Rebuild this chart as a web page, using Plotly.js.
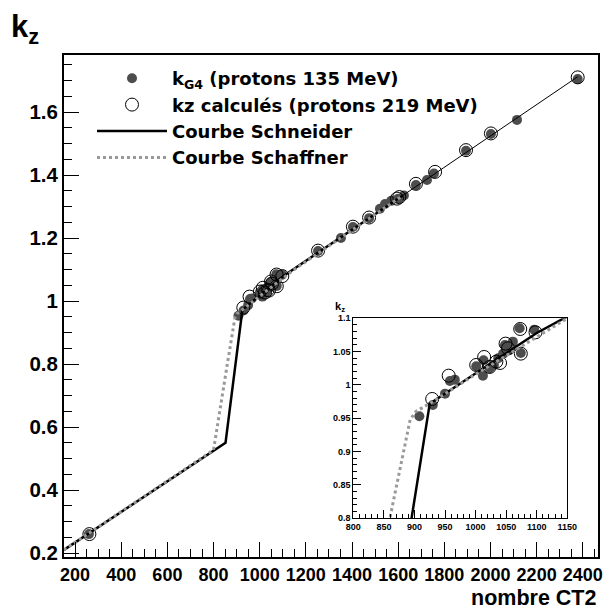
<!DOCTYPE html>
<html>
<head>
<meta charset="utf-8">
<script src="https://cdn.plot.ly/plotly-3.0.1.min.js"></script>
<style>html,body{margin:0;padding:0;background:#fff;}#chart{width:603px;height:614px;}</style>
</head>
<body>
<div id="chart"></div>
<script>
// k_G4 (protons 135 MeV) – filled markers
const ctG4 = [260, 908, 930, 950, 958, 966, 1001, 1012, 1013, 1023, 1030, 1037, 1045, 1048, 1055, 1061, 1072, 1074, 1096, 1253, 1352, 1404, 1474, 1521, 1543, 1570, 1600, 1625, 1677, 1725, 1755, 1894, 2002, 2115, 2378];
const kzG4 = [0.26, 0.953, 0.970, 0.987, 1.006, 1.008, 1.028, 1.014, 1.037, 1.025, 1.030, 1.040, 1.047, 1.060, 1.052, 1.065, 1.085, 1.048, 1.083, 1.159, 1.200, 1.235, 1.263, 1.293, 1.308, 1.318, 1.325, 1.335, 1.368, 1.384, 1.405, 1.477, 1.530, 1.575, 1.705];

// kz calculés (protons 219 MeV) – open circles
const ctCalc = [262, 929, 956, 1001, 1014, 1023, 1034, 1040, 1049, 1053, 1074, 1073, 1098, 1253, 1404, 1474, 1595, 1605, 1677, 1760, 1894, 2002, 2378];
const kzCalc = [0.26, 0.979, 1.014, 1.030, 1.042, 1.027, 1.035, 1.033, 1.062, 1.055, 1.047, 1.084, 1.079, 1.160, 1.236, 1.265, 1.325, 1.330, 1.372, 1.410, 1.479, 1.532, 1.710];

// Courbe Schneider
const ctSchneider = [152, 852, 925, 1000, 1100, 1620];
const kzSchneider = [0.21, 0.55, 0.972, 1.018, 1.078, 1.335];

// Courbe Schaffner
const ctSchaffner = [152, 800, 862, 893, 902, 930, 1000, 1150, 1620];
const kzSchaffner = [0.21, 0.527, 0.81, 0.948, 0.96, 0.975, 1.016, 1.1, 1.335];

// thin continuation line
const ctHigh = [1620, 2378];
const kzHigh = [1.335, 1.712];

const xTicksMain = [200, 400, 600, 800, 1000, 1200, 1400, 1600, 1800, 2000, 2200, 2400];
const yTicksMain = [0.2, 0.4, 0.6, 0.8, 1, 1.2, 1.4, 1.6];
const xTicksInset = [800, 850, 900, 950, 1000, 1050, 1100, 1150];
const yTicksInset = [0.8, 0.85, 0.9, 0.95, 1, 1.05, 1.1];

const FONT = 'Liberation Sans, Arial, Helvetica, sans-serif';
const LEGFONT = 'DejaVu Sans, Liberation Sans, Arial, sans-serif';
const filledColor = '#4d4d4d';

function tracesFor(xa, ya, legend) {
  return [
    {x: ctG4, y: kzG4, xaxis: xa, yaxis: ya, type: 'scatter', mode: 'markers',
     name: 'k<sub>G4</sub> (protons 135 MeV)', showlegend: legend,
     marker: {symbol: 'circle', size: 10, color: filledColor, line: {width: 0}}},
    {x: ctCalc, y: kzCalc, xaxis: xa, yaxis: ya, type: 'scatter', mode: 'markers',
     name: 'kz calculés (protons 219 MeV)', showlegend: legend,
     marker: {symbol: 'circle-open', size: 13, color: '#000', line: {width: 1, color: '#000'}}},
    {x: ctSchneider, y: kzSchneider, xaxis: xa, yaxis: ya, type: 'scatter', mode: 'lines',
     name: 'Courbe Schneider', showlegend: legend,
     line: {color: '#000', width: 2.5}},
    {x: ctSchaffner, y: kzSchaffner, xaxis: xa, yaxis: ya, type: 'scatter', mode: 'lines',
     name: 'Courbe Schaffner', showlegend: legend,
     line: {color: '#999', width: 3, dash: 'dot'}},
    {x: ctHigh, y: kzHigh, xaxis: xa, yaxis: ya, type: 'scatter', mode: 'lines',
     showlegend: false, line: {color: '#000', width: 1}}
  ];
}

const data = tracesFor('x', 'y', true).concat(tracesFor('x2', 'y2', false));

const axBase = {showgrid: false, zeroline: false, showline: true, mirror: true,
  linecolor: '#000', ticks: 'inside', tickcolor: '#000', tickmode: 'array'};

const layout = {
  width: 603, height: 614,
  margin: {l: 64, r: 5, t: 55, b: 57},
  paper_bgcolor: '#fff', plot_bgcolor: '#fff',
  font: {family: FONT, color: '#000', weight: 'bold'},
  showlegend: true,
  legend: {x: (92 - 64) / 534, xanchor: 'left', y: 1 - (60 - 55) / 502, yanchor: 'top',
    bgcolor: 'rgba(0,0,0,0)', borderwidth: 0, itemwidth: 70,
    font: {family: LEGFONT, size: 18, weight: 'bold', color: '#000'}, tracegroupgap: 0},
  xaxis: Object.assign({}, axBase, {range: [152, 2466], tickvals: xTicksMain,
    ticktext: xTicksMain.map(String), ticklen: 15, linewidth: 2, tickwidth: 1,
    ticklabeloverflow: 'allow',
    tickfont: {family: FONT, size: 18, weight: 'bold'},
    minor: {dtick: 50, tick0: 0, ticks: 'inside', ticklen: 8, tickcolor: '#000'}}),
  yaxis: Object.assign({}, axBase, {range: [0.1873, 1.781], tickvals: yTicksMain,
    ticktext: ['0.2', '0.4', '0.6', '0.8', '1', '1.2', '1.4', '1.6'], ticklen: 15, linewidth: 2, tickwidth: 1,
    tickfont: {family: FONT, size: 20.5, weight: 'bold'},
    minor: {dtick: 0.05, tick0: 0, ticks: 'inside', ticklen: 8, tickcolor: '#000'}}),
  xaxis2: Object.assign({}, axBase, {domain: [0.5418, 0.9425], anchor: 'y2', range: [800, 1150],
    tickvals: xTicksInset, ticktext: xTicksInset.map(String), ticklen: 8, linewidth: 1, tickwidth: 1,
    tickfont: {family: FONT, size: 9, weight: 'bold'},
    minor: {dtick: 10, tick0: 0, ticks: 'inside', ticklen: 4, tickcolor: '#000'}}),
  yaxis2: Object.assign({}, axBase, {domain: [0.0771, 0.4755], anchor: 'x2', range: [0.8, 1.1],
    tickvals: yTicksInset, ticktext: ['0.8', '0.85', '0.9', '0.95', '1', '1.05', '1.1'], ticklen: 8, linewidth: 1, tickwidth: 1,
    tickfont: {family: FONT, size: 9, weight: 'bold'},
    minor: {dtick: 0.01, tick0: 0, ticks: 'inside', ticklen: 4, tickcolor: '#000'}}),
  annotations: [
    {text: 'k<sub>z</sub>', xref: 'paper', yref: 'paper', x: -64 / 534, y: 1 + (55 - 29) / 502,
     xanchor: 'left', yanchor: 'middle', showarrow: false, xshift: 9,
     font: {family: FONT, size: 31, weight: 'bold', color: '#000'}},
    {text: 'nombre CT2', xref: 'paper', yref: 'paper', x: 1, y: -(598 - 557) / 502,
     xanchor: 'right', yanchor: 'middle', showarrow: false,
     font: {family: FONT, size: 21.5, weight: 'bold', color: '#000'}},
    {text: 'k<sub>z</sub>', xref: 'paper', yref: 'paper', x: (333 - 64) / 534, y: (557 - 307) / 502,
     xanchor: 'left', yanchor: 'middle', showarrow: false,
     font: {family: FONT, size: 11, weight: 'bold', color: '#000'}}
  ]
};

Plotly.newPlot('chart', data, layout, {staticPlot: true, displayModeBar: false});
</script>
</body>
</html>
